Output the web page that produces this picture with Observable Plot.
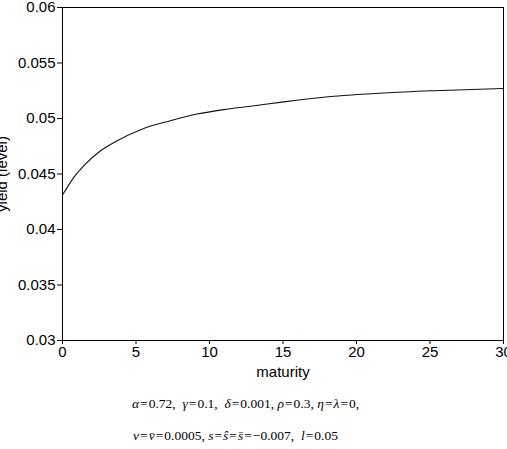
<!DOCTYPE html>
<html><head><meta charset="utf-8">
<script src="https://cdn.jsdelivr.net/npm/d3@7"></script>
<script src="https://cdn.jsdelivr.net/npm/@observablehq/plot@0.6"></script>
<style>
html,body{margin:0;padding:0;background:#fff;width:507px;height:449px;overflow:hidden;position:relative}
#chart svg{display:block;overflow:visible}
.cap{position:absolute;left:0;font-family:"Liberation Serif","Times New Roman",serif;font-size:13.5px;color:#000;white-space:pre}
.cap i{font-style:italic}
.cap b{font-weight:normal;margin:0 1px}
</style></head>
<body>
<div id="chart"></div>
<div class="cap" id="c1" style="top:396px;left:132px"><i>α</i><b>=</b>0.72,  <i>γ</i><b>=</b>0.1,  <i>δ</i><b>=</b>0.001, <i>ρ</i><b>=</b>0.3, <i>η</i><b>=</b><i>λ</i><b>=</b>0,</div>
<div class="cap" id="c2" style="top:428px;left:133px"><i>v</i><b>=</b><i>v̄</i><b>=</b>0.0005, <i>s</i><b>=</b><i>ŝ</i><b>=</b><i>s̄</i><b>=</b>−0.007,  <i>l</i><b>=</b>0.05</div>
<script>
const maturity = [0, 0.77, 1.56, 2.59, 3.72, 5.53, 7.35, 9.16, 10.97, 12.79, 15.05, 18.45, 21.86, 25.26, 30];
const yieldLevel = [0.0431, 0.0447, 0.0459, 0.0471, 0.0480, 0.0491, 0.0498, 0.0504, 0.0508, 0.0511, 0.0515, 0.0520, 0.0523, 0.0525, 0.0527];
const xTicks = [0, 5, 10, 15, 20, 25, 30];
const yTicks = [0.03, 0.035, 0.04, 0.045, 0.05, 0.055, 0.06];
const data = maturity.map((m, i) => ({maturity: m, y: yieldLevel[i]}));

const plot = Plot.plot({
  width: 507,
  height: 385,
  marginLeft: 62,
  marginRight: 4,
  marginTop: 7,
  marginBottom: 45,
  style: {fontFamily: "'Liberation Sans', Arial, sans-serif", fontSize: "15px", color: "#000", background: "#fff"},
  x: {domain: [0, 30], ticks: xTicks, label: "maturity", labelArrow: "none", labelAnchor: "center", labelOffset: 36, tickSize: 4, tickPadding: 2},
  y: {domain: [0.03, 0.06], ticks: yTicks, tickFormat: d => String(+d.toFixed(3)), label: "yield (level)", labelArrow: "none", labelAnchor: "center", labelOffset: 66, tickSize: 5, tickPadding: 2},
  marks: [
    Plot.frame({stroke: "#000", strokeWidth: 1}),
    Plot.line(data, {x: "maturity", y: "y", curve: "monotone-x", stroke: "#111", strokeWidth: 1.1})
  ]
});
document.getElementById("chart").appendChild(plot);
</script>
</body></html>
